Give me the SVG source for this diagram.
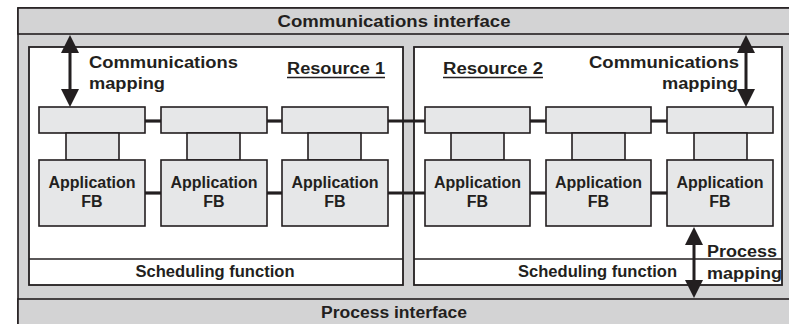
<svg xmlns="http://www.w3.org/2000/svg" width="789" height="324" viewBox="0 0 789 324">
<defs>
<style>
.t{font-family:"Liberation Sans",Arial,sans-serif;font-weight:bold;font-size:16px;fill:#231f20}
.band{fill:#d3d3d4;stroke:#231f20;stroke-width:1.6}
.res{fill:#ffffff;stroke:#231f20;stroke-width:1.8}
.box{fill:#e6e7e8;stroke:#231f20;stroke-width:1.6}
.con{stroke:#231f20;stroke-width:3.2;fill:none}
.arr{fill:#231f20}
</style>
</defs>
<rect x="0" y="0" width="789" height="324" fill="#ffffff"/>
<g id="frame">
<rect x="18" y="8" width="780" height="330" fill="#d3d3d4" stroke="#231f20" stroke-width="1.6"/>
</g>
<g id="comm-interface">
<rect class="band" x="18" y="8" width="780" height="26"/>
<text class="t" x="394" y="27" text-anchor="middle" textLength="233" lengthAdjust="spacingAndGlyphs">Communications interface</text>
</g>
<g id="process-interface">
<rect class="band" x="18" y="299" width="780" height="40"/>
<text class="t" x="394" y="318" text-anchor="middle" textLength="146" lengthAdjust="spacingAndGlyphs">Process interface</text>
</g>
<g id="resource1">
<rect class="res" x="29" y="47" width="374" height="238"/>
<line x1="29" y1="259" x2="403" y2="259" stroke="#231f20" stroke-width="1.6"/>
<text class="t" x="215" y="277" text-anchor="middle" textLength="159" lengthAdjust="spacingAndGlyphs">Scheduling function</text>
<text class="t" x="287" y="74" textLength="98" lengthAdjust="spacingAndGlyphs">Resource 1</text>
<line x1="287" y1="77.5" x2="385" y2="77.5" stroke="#231f20" stroke-width="1.3"/>
<text class="t" x="89" y="68" textLength="149" lengthAdjust="spacingAndGlyphs">Communications</text>
<text class="t" x="89" y="89" textLength="76" lengthAdjust="spacingAndGlyphs">mapping</text>
</g>
<g id="resource2">
<rect class="res" x="414" y="47" width="368" height="238"/>
<line x1="414" y1="259" x2="782" y2="259" stroke="#231f20" stroke-width="1.6"/>
<text class="t" x="518" y="277" textLength="159" lengthAdjust="spacingAndGlyphs">Scheduling function</text>
<text class="t" x="443" y="74" textLength="100" lengthAdjust="spacingAndGlyphs">Resource 2</text>
<line x1="443" y1="77.5" x2="543" y2="77.5" stroke="#231f20" stroke-width="1.3"/>
<text class="t" x="589" y="68" textLength="150" lengthAdjust="spacingAndGlyphs">Communications</text>
<text class="t" x="662" y="89" textLength="76" lengthAdjust="spacingAndGlyphs">mapping</text>
<text class="t" x="707" y="257" textLength="70" lengthAdjust="spacingAndGlyphs">Process</text>
<text class="t" x="707" y="279" textLength="75" lengthAdjust="spacingAndGlyphs">mapping</text>
</g>
<g id="connectors">
<line class="con" x1="145" y1="121" x2="161" y2="121"/>
<line class="con" x1="267" y1="121" x2="282" y2="121"/>
<line class="con" x1="388" y1="121" x2="425" y2="121"/>
<line class="con" x1="530" y1="121" x2="546" y2="121"/>
<line class="con" x1="651" y1="121" x2="667" y2="121"/>
<line class="con" x1="145" y1="193" x2="161" y2="193"/>
<line class="con" x1="267" y1="193" x2="282" y2="193"/>
<line class="con" x1="388" y1="193" x2="425" y2="193"/>
<line class="con" x1="530" y1="193" x2="546" y2="193"/>
<line class="con" x1="651" y1="193" x2="667" y2="193"/>
</g>
<g id="fb1">
<rect class="box" x="39" y="107" width="106" height="26"/>
<rect class="box" x="66" y="133" width="53" height="27"/>
<rect class="box" x="39" y="160" width="106" height="66"/>
<text class="t" x="92" y="188" text-anchor="middle">Application</text>
<text class="t" x="92" y="207" text-anchor="middle">FB</text>
</g>
<g id="fb2">
<rect class="box" x="161" y="107" width="106" height="26"/>
<rect class="box" x="187" y="133" width="53" height="27"/>
<rect class="box" x="161" y="160" width="106" height="66"/>
<text class="t" x="214" y="188" text-anchor="middle">Application</text>
<text class="t" x="214" y="207" text-anchor="middle">FB</text>
</g>
<g id="fb3">
<rect class="box" x="282" y="107" width="106" height="26"/>
<rect class="box" x="308" y="133" width="53" height="27"/>
<rect class="box" x="282" y="160" width="106" height="66"/>
<text class="t" x="335" y="188" text-anchor="middle">Application</text>
<text class="t" x="335" y="207" text-anchor="middle">FB</text>
</g>
<g id="fb4">
<rect class="box" x="425" y="107" width="105" height="26"/>
<rect class="box" x="451" y="133" width="53" height="27"/>
<rect class="box" x="425" y="160" width="105" height="66"/>
<text class="t" x="477.5" y="188" text-anchor="middle">Application</text>
<text class="t" x="477.5" y="207" text-anchor="middle">FB</text>
</g>
<g id="fb5">
<rect class="box" x="546" y="107" width="105" height="26"/>
<rect class="box" x="572" y="133" width="53" height="27"/>
<rect class="box" x="546" y="160" width="105" height="66"/>
<text class="t" x="598.5" y="188" text-anchor="middle">Application</text>
<text class="t" x="598.5" y="207" text-anchor="middle">FB</text>
</g>
<g id="fb6">
<rect class="box" x="667" y="107" width="106" height="26"/>
<rect class="box" x="694" y="133" width="53" height="27"/>
<rect class="box" x="667" y="160" width="106" height="66"/>
<text class="t" x="720" y="188" text-anchor="middle">Application</text>
<text class="t" x="720" y="207" text-anchor="middle">FB</text>
</g>
<g id="arrows">
<path class="arr" d="M70,35 L79,53 L71.5,53 L71.5,89 L79,89 L70,107 L61,89 L68.5,89 L68.5,53 L61,53 Z"/>
<path class="arr" d="M746,35 L755,53 L747.5,53 L747.5,89 L755,89 L746,107 L737,89 L744.5,89 L744.5,53 L737,53 Z"/>
<path class="arr" d="M694,227 L703,245 L695.5,245 L695.5,280 L703,280 L694,298 L685,280 L692.5,280 L692.5,245 L685,245 Z"/>
</g>
</svg>
